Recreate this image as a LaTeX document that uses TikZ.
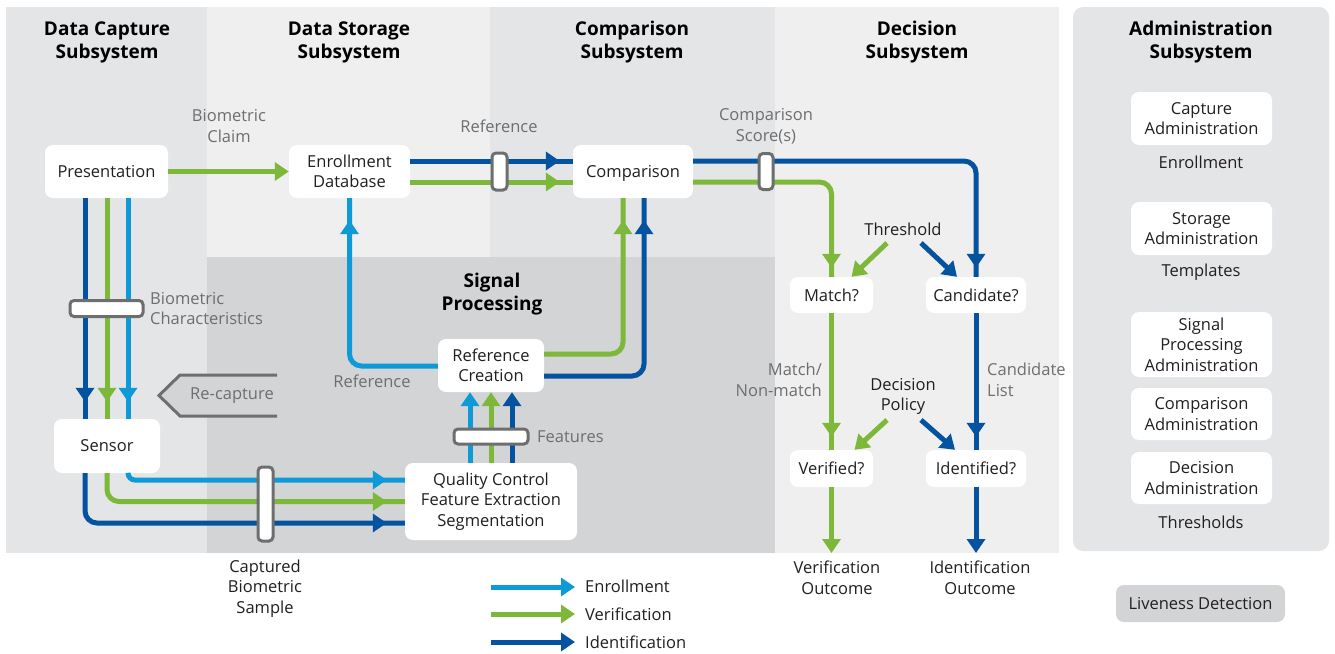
\documentclass[tikz,border=0pt]{standalone}
\usepackage{fontspec}
\setmainfont{Open Sans}
\usetikzlibrary{arrows.meta,decorations.markings,calc}

\definecolor{enrol}{HTML}{0E9AD7}
\definecolor{verif}{HTML}{7DB83A}
\definecolor{ident}{HTML}{0453A0}
\definecolor{labgray}{HTML}{6D6E70}
\definecolor{ink}{HTML}{231F20}
\definecolor{colA}{HTML}{E4E5E7}
\definecolor{colB}{HTML}{EFEFEF}
\definecolor{sigbg}{HTML}{D3D4D6}

\tikzset{
  txt/.style={font=\fontsize{16.5}{20.5}\selectfont, text=ink, align=center, inner sep=0pt},
  lab/.style={txt, text=labgray},
  head/.style={font=\bfseries\fontsize{19}{23}\selectfont, text=black, align=center, inner sep=0pt},
  box/.style={txt, fill=white, rounded corners=8pt},
  bar/.style={draw=labgray, fill=white, line width=3pt, rounded corners=4pt, inner sep=0pt},
  flow/.style={line width=5pt, rounded corners=12pt},
  fE/.style={flow, draw=enrol},
  fV/.style={flow, draw=verif},
  fI/.style={flow, draw=ident},
  endtip/.style={-{Triangle[length=14pt,width=18pt]}},
  midtip/.style={postaction={decorate,decoration={markings,
      mark=at position #1 with {\arrow{Triangle[length=14pt,width=18pt]}}}}},
}

\begin{document}
\begin{tikzpicture}[x=1pt,y=-1pt]
\useasboundingbox (0,0) rectangle (1335,653);
\fill[white] (0,0) rectangle (1335,653);

% subsystem columns
\fill[colA] (6,7) rectangle (207,553);
\fill[colB] (207,7) rectangle (490,553);
\fill[colA] (490,7) rectangle (775,553);
\fill[colB] (775,7) rectangle (1059,553);
\fill[sigbg] (207,257) rectangle (775,553);
\fill[colA, rounded corners=10pt] (1073,7) rectangle (1329,551);

% headings
\node[head] (hcap) at (107,42.5) {Data Capture\\Subsystem};
\node[head] (hsto) at (349,42.5) {Data Storage\\Subsystem};
\node[head] (hcmp) at (632,42.5) {Comparison\\Subsystem};
\node[head] (hdec) at (917,42.5) {Decision\\Subsystem};
\node[head] (hadm) at (1201,42.5) {Administration\\Subsystem};
\node[head] (hsig) at (492,294) {Signal\\Processing};

% process boxes
\node[box, minimum width=123pt, minimum height=53pt] (pres) at (106.5,171.5) {Presentation};
\node[box, minimum width=121pt, minimum height=53pt] (edb) at (349.5,171.5) {Enrollment\\Database};
\node[box, minimum width=120pt, minimum height=53pt, text depth=0pt] (comp) at (633,171.5) {Comparison\vphantom{l}};
\node[box, minimum width=106pt, minimum height=54pt] (sensor) at (107,446) {Sensor};
\node[box, minimum width=172pt, minimum height=77pt] (qc) at (491,501.5) {Quality Control\\Feature Extraction\\Segmentation};
\node[box, minimum width=106pt, minimum height=53pt] (rc) at (491,365.5) {Reference\\Creation};
\node[box, minimum width=83pt, minimum height=36pt] (match) at (831.5,295) {Match?};
\node[box, minimum width=100pt, minimum height=36pt] (cand) at (976,295) {Candidate?};
\node[box, minimum width=83pt, minimum height=37pt] (verd) at (831.5,468.5) {Verified?};
\node[box, minimum width=100pt, minimum height=37pt] (idd) at (976,468.5) {Identified?};

% administration
\node[box, minimum width=141pt, minimum height=53pt] (cadm) at (1201.5,118.5) {Capture\\Administration};
\node[txt] (tenr) at (1201,162) {Enrollment};
\node[box, minimum width=141pt, minimum height=53pt] (sadm) at (1201.5,228.5) {Storage\\Administration};
\node[txt] (ttpl) at (1201,272) {Templates};
\node[box, minimum width=141pt, minimum height=65pt] (padm) at (1201.5,344.5) {Signal\\Processing\\Administration};
\node[box, minimum width=141pt, minimum height=52pt] (coadm) at (1201.5,414) {Comparison\\Administration};
\node[box, minimum width=141pt, minimum height=52pt] (dadm) at (1201.5,478) {Decision\\Administration};
\node[txt] (tthr) at (1201,522) {Thresholds};
\node[txt, fill=sigbg, rounded corners=8pt, minimum width=169pt, minimum height=37pt] (live) at (1200.5,603.5) {Liveness Detection};

% re-capture marker
\draw[draw=labgray, fill=sigbg, line width=3pt] (277,375) -- (180,375) -- (159,395.5) -- (180,416) -- (277,416);
\node[lab] (recap) at (232,396) {Re-capture};

% presentation -> enrollment database (claim)
\draw[fV, endtip] (pres.east |- 0,171.5) -- (edb.west |- 0,171.5);
\node[lab] (lclaim) at (229,126) {Biometric\\Claim};

% presentation -> sensor
\draw[fI, midtip=-17pt] (85,0 |- pres.south) -- (85,0 |- sensor.north);
\draw[fV, midtip=-17pt] (107,0 |- pres.south) -- (107,0 |- sensor.north);
\draw[fE, midtip=-17pt] (128,0 |- pres.south) -- (128,0 |- sensor.north);
\node[bar, minimum width=73pt, minimum height=16pt] (bchar) at (106.5,308.5) {};
\node[lab, align=left, anchor=west] (lchar) at (150,308.5) {Biometric\\Characteristics};

% sensor -> quality control
\draw[fE, rounded corners=7pt, midtip=-18pt] (128,0 |- sensor.south) |- (qc.west |- 0,480);
\draw[fV, midtip=-18pt] (107,0 |- sensor.south) |- (qc.west |- 0,501.5);
\draw[fI, midtip=-18pt] (85,0 |- sensor.south) |- (qc.west |- 0,523);
\node[bar, minimum width=15pt, minimum height=74pt] (capt) at (265.5,504) {};
\node[txt] (lcapt) at (265,588.5) {Captured\\Biometric\\Sample};

% quality control -> reference creation
\draw[fE, endtip] (470,0 |- qc.north) -- (470,0 |- rc.south);
\draw[fV, endtip] (491,0 |- qc.north) -- (491,0 |- rc.south);
\draw[fI, endtip] (512,0 |- qc.north) -- (512,0 |- rc.south);
\node[bar, minimum width=74pt, minimum height=15pt] (feat) at (491,436.5) {};
\node[lab, anchor=west] (lfeat) at (537,436.5) {Features};

% reference creation -> enrollment database / comparison
\draw[fE, midtip=-22pt] (rc.west |- 0,366) -| (edb.south);
\node[lab] (lref2) at (372,381) {Reference};
\draw[fV, midtip=-22pt] (rc.east |- 0,354) -| (comp.south -| 623,0);
\draw[fI, midtip=-22pt] (rc.east |- 0,376) -| (comp.south -| 644,0);

% enrollment database -> comparison
\draw[fI, midtip=-13pt] (edb.east |- 0,161) -- (comp.west |- 0,161);
\draw[fV, midtip=-13pt] (edb.east |- 0,182) -- (comp.west |- 0,182);
\node[bar, minimum width=15pt, minimum height=37pt] (refbar) at (499.5,171.5) {};
\node[lab] (lref1) at (499,126) {Reference};

% comparison -> decision
\draw[fI, midtip=-9pt] (comp.east |- 0,161) -| (cand.north);
\draw[fV, midtip=-9pt] (comp.east |- 0,182) -| (match.north);
\node[bar, minimum width=14pt, minimum height=36pt] (score) at (766,171.5) {};
\node[lab] (lscore) at (766,126) {Comparison\\Score(s)};

% thresholds
\node[txt] (thr) at (903,229) {Threshold};
\coordinate (thrL) at (887,243);
\coordinate (thrR) at (921,243);
\draw[fV, endtip] (thrL) -- ($(match.north)+(20,0)$);
\draw[fI, endtip] (thrR) -- ($(cand.north)+(-19,0)$);

% match / candidate -> verified / identified
\draw[fV, midtip=-13pt] (match.south) -- (verd.north);
\draw[fI, midtip=-13pt] (cand.south) -- (idd.north);
\node[lab, align=right, anchor=east] (lmatch) at (822,380) {Match/\\Non-match};
\node[lab, align=left, anchor=west] (lcand) at (987,380) {Candidate\\List};

% decision policy
\node[txt] (pol) at (903,396.5) {Decision\\Policy};
\coordinate (polL) at (887,420);
\coordinate (polR) at (921,420);
\draw[fV, endtip] (polL) -- ($(verd.north)+(23,0)$);
\draw[fI, endtip] (polR) -- ($(idd.north)+(-21,0)$);

% outcomes
\coordinate (voutc) at (831.5,553);
\coordinate (ioutc) at (976,553);
\draw[fV, endtip] (verd.south) -- (voutc);
\draw[fI, endtip] (idd.south) -- (ioutc);
\node[txt] (lvout) at (837,578) {Verification\\Outcome};
\node[txt] (liout) at (980,578) {Identification\\Outcome};

% legend
\coordinate (legE) at (491,587);
\coordinate (legV) at (491,614);
\coordinate (legI) at (491,642);
\node[txt, anchor=west] (tE) at (585,586) {Enrollment};
\node[txt, anchor=west] (tV) at (585,614) {Verification};
\node[txt, anchor=west] (tI) at (585,642) {Identification};
\draw[fE, endtip] (legE) -- (575,587);
\draw[fV, endtip] (legV) -- (575,614);
\draw[fI, endtip] (legI) -- (575,642);
\end{tikzpicture}
\end{document}
